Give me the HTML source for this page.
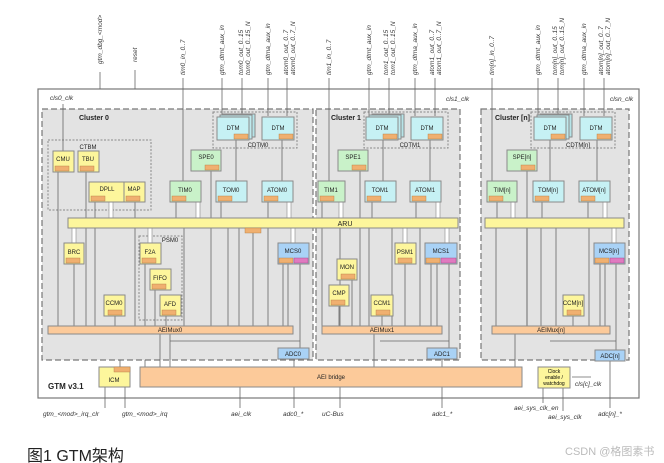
<!DOCTYPE html>
<html><head><meta charset="utf-8"><style>
body{margin:0;background:#fff;width:664px;height:463px;overflow:hidden}
svg{display:block}
text{font-family:"Liberation Sans",sans-serif}
.b{stroke:#8a8a8a;stroke-width:1}
.t{font-size:6px;fill:#222;text-anchor:middle}
.l{stroke:#666;stroke-width:0.8;fill:none}
.r{font-size:6.5px;fill:#333;font-style:italic}
.a{fill:#f0b070;stroke:#b07a40;stroke-width:0.4}
</style></head><body>
<svg width="664" height="463" viewBox="0 0 664 463" xmlns="http://www.w3.org/2000/svg">
<defs><marker id="m" markerWidth="4" markerHeight="4" refX="2" refY="2" orient="auto"><path d="M0,0L4,2L0,4z" fill="#222"/></marker></defs>
<!-- outer -->
<rect x="38" y="89" width="601" height="309" fill="#fff" stroke="#777" stroke-width="1.2"/>
<!-- clusters -->
<rect x="42" y="109" width="271" height="251" fill="#e3e3e3" stroke="#777" stroke-dasharray="6,3" stroke-width="1.2"/>
<rect x="316" y="109" width="144" height="251" fill="#e3e3e3" stroke="#777" stroke-dasharray="6,3" stroke-width="1.2"/>
<rect x="481" y="109" width="148" height="251" fill="#e3e3e3" stroke="#777" stroke-dasharray="6,3" stroke-width="1.2"/>
<text x="79" y="120" font-size="7" font-weight="bold" fill="#222">Cluster 0</text>
<text x="331" y="120" font-size="7" font-weight="bold" fill="#222">Cluster 1</text>
<text x="495" y="120" font-size="7" font-weight="bold" fill="#222">Cluster [n]</text>
<text x="50" y="100" class="r">cls0_clk</text>
<text x="446" y="101" class="r">cls1_clk</text>
<text x="610" y="101" class="r">clsn_clk</text>
<!-- dotted groups -->
<rect x="48" y="140" width="103" height="70" fill="none" stroke="#888" stroke-dasharray="2,1.5"/>
<text x="88" y="149" class="t">CTBM</text>
<rect x="213" y="112" width="84" height="36" fill="none" stroke="#888" stroke-dasharray="2,1.5"/>
<text x="258" y="147" class="t">CDTM0</text>
<rect x="364" y="112" width="84" height="36" fill="none" stroke="#888" stroke-dasharray="2,1.5"/>
<text x="410" y="147" class="t">CDTM1</text>
<rect x="531" y="112" width="84" height="36" fill="none" stroke="#888" stroke-dasharray="2,1.5"/>
<text x="578" y="147" class="t">CDTM[n]</text>
<rect x="139" y="236" width="43" height="84" fill="none" stroke="#888" stroke-dasharray="2,1.5"/>
<text x="170" y="242" class="t">PSM0</text>

<!-- vertical lines from top -->
<g class="l">
<line x1="183" y1="78" x2="183" y2="181"/><line x1="222" y1="78" x2="222" y2="116"/><line x1="242" y1="78" x2="242" y2="116"/><line x1="268" y1="78" x2="268" y2="116"/><line x1="287" y1="78" x2="287" y2="116"/>
<line x1="329" y1="78" x2="329" y2="181"/><line x1="369" y1="78" x2="369" y2="116"/><line x1="389" y1="78" x2="389" y2="116"/><line x1="415" y1="78" x2="415" y2="116"/><line x1="435" y1="78" x2="435" y2="116"/>
<line x1="492" y1="78" x2="492" y2="181"/><line x1="538" y1="78" x2="538" y2="116"/><line x1="558" y1="78" x2="558" y2="116"/><line x1="584" y1="78" x2="584" y2="116"/><line x1="604" y1="78" x2="604" y2="116"/>
<line x1="100" y1="72" x2="100" y2="89"/><line x1="135" y1="70" x2="135" y2="89"/>
<line x1="63" y1="104" x2="63" y2="151"/>
<line x1="236" y1="140" x2="236" y2="181"/><line x1="282" y1="140" x2="282" y2="181"/>
<line x1="383" y1="140" x2="383" y2="181"/><line x1="430" y1="140" x2="430" y2="181"/>
<line x1="550" y1="140" x2="550" y2="181"/><line x1="597" y1="140" x2="597" y2="181"/>
<line x1="211" y1="171" x2="211" y2="326"/><line x1="360" y1="171" x2="360" y2="326"/><line x1="527" y1="171" x2="527" y2="326"/>
<!-- down to AEIMux0 -->
<line x1="58" y1="172" x2="58" y2="326"/><line x1="86" y1="172" x2="86" y2="326"/><line x1="95" y1="202" x2="95" y2="326"/><line x1="135" y1="202" x2="135" y2="326"/>
<line x1="74" y1="264" x2="74" y2="326"/><line x1="115" y1="316" x2="115" y2="326"/>
<line x1="145" y1="264" x2="145" y2="326"/><line x1="155" y1="290" x2="155" y2="326"/><line x1="166" y1="316" x2="166" y2="326"/><line x1="184" y1="228" x2="184" y2="326"/>
<line x1="176" y1="202" x2="176" y2="218"/><line x1="221" y1="202" x2="221" y2="218"/><line x1="268" y1="202" x2="268" y2="218"/>
<line x1="228" y1="228" x2="228" y2="326"/><line x1="239" y1="228" x2="239" y2="326"/><line x1="253" y1="233" x2="253" y2="326"/><line x1="268" y1="228" x2="268" y2="326"/>
<line x1="283" y1="264" x2="283" y2="326"/><line x1="288" y1="264" x2="288" y2="326"/><line x1="300" y1="264" x2="300" y2="348"/>
<line x1="170" y1="334" x2="170" y2="367"/><line x1="170" y1="341" x2="300" y2="341"/>
<line x1="160" y1="334" x2="160" y2="367"/>
<!-- cluster1 -->
<line x1="322" y1="202" x2="322" y2="326"/><line x1="340" y1="202" x2="340" y2="326"/><line x1="339" y1="306" x2="339" y2="326"/><line x1="352" y1="280" x2="352" y2="326"/>
<line x1="369" y1="228" x2="369" y2="326"/><line x1="382" y1="316" x2="382" y2="326"/><line x1="392" y1="228" x2="392" y2="326"/><line x1="405" y1="264" x2="405" y2="326"/>
<line x1="420" y1="228" x2="420" y2="326"/><line x1="431" y1="264" x2="431" y2="326"/><line x1="437" y1="264" x2="437" y2="326"/><line x1="449" y1="264" x2="449" y2="348"/>
<line x1="372" y1="202" x2="372" y2="218"/><line x1="416" y1="202" x2="416" y2="218"/>
<line x1="374" y1="334" x2="374" y2="367"/><line x1="380" y1="341" x2="449" y2="341"/>
<!-- cluster n -->
<line x1="496" y1="228" x2="496" y2="326"/><line x1="527" y1="228" x2="527" y2="326"/><line x1="541" y1="228" x2="541" y2="326"/><line x1="556" y1="228" x2="556" y2="326"/><line x1="573" y1="316" x2="573" y2="326"/><line x1="589" y1="228" x2="589" y2="326"/>
<line x1="600" y1="264" x2="600" y2="326"/><line x1="605" y1="264" x2="605" y2="326"/><line x1="616" y1="264" x2="616" y2="350"/>
<line x1="497" y1="202" x2="497" y2="218"/><line x1="542" y1="202" x2="542" y2="218"/><line x1="588" y1="202" x2="588" y2="218"/>
<line x1="515" y1="334" x2="515" y2="367"/><line x1="550" y1="341" x2="616" y2="341"/>
<!-- bottom -->
<line x1="294" y1="359" x2="294" y2="408"/><line x1="442" y1="359" x2="442" y2="408"/><line x1="610" y1="360" x2="610" y2="408"/>
<line x1="240" y1="387" x2="240" y2="408"/><line x1="340" y1="387" x2="340" y2="408"/>
<line x1="105" y1="387" x2="105" y2="408"/><line x1="125" y1="387" x2="125" y2="408"/>
<line x1="543" y1="388" x2="543" y2="403"/><line x1="563" y1="388" x2="563" y2="411"/>
<line x1="572" y1="377" x2="591" y2="377"/>
<line x1="120" y1="360" x2="120" y2="367"/><line x1="145" y1="360" x2="145" y2="367"/>
</g>
<!-- double arrows -->
<g fill="#fff" stroke="#888" stroke-width="0.6">
<rect x="109" y="202" width="4" height="16"/><rect x="196" y="202" width="4" height="16"/><rect x="287" y="202" width="4" height="16"/>
<rect x="72" y="228" width="4" height="15"/><rect x="148" y="228" width="4" height="15"/><rect x="291" y="228" width="4" height="15"/>
<rect x="339" y="202" width="4" height="16"/><rect x="436" y="202" width="4" height="16"/><rect x="403" y="228" width="4" height="15"/><rect x="445" y="228" width="4" height="15"/>
<rect x="511" y="202" width="4" height="16"/><rect x="603" y="202" width="4" height="16"/><rect x="612" y="228" width="4" height="15"/>
</g>
<!-- bars -->
<rect x="68" y="218" width="390" height="10" fill="#fdf69c" class="b"/>
<rect x="485" y="218" width="139" height="10" fill="#fdf69c" class="b"/>
<text x="345" y="226" font-size="7" fill="#222" text-anchor="middle">ARU</text>
<rect x="245" y="228" width="16" height="5" class="a"/>
<rect x="48" y="326" width="245" height="8" fill="#fcca9a" class="b"/>
<text x="170" y="332" class="t">AEIMux0</text>
<rect x="322" y="326" width="120" height="8" fill="#fcca9a" class="b"/>
<text x="382" y="332" class="t">AEIMux1</text>
<rect x="492" y="326" width="118" height="8" fill="#fcca9a" class="b"/>
<text x="551" y="332" class="t">AEIMux[n]</text>
<rect x="140" y="367" width="382" height="20" fill="#fcca9a" class="b"/>
<text x="331" y="379" class="t">AEI bridge</text>
<!-- ADC -->
<rect x="278" y="348" width="31" height="11" fill="#a9d2f6" class="b"/><text x="293" y="356" class="t">ADC0</text>
<rect x="427" y="348" width="30" height="11" fill="#a9d2f6" class="b"/><text x="442" y="356" class="t">ADC1</text>
<rect x="595" y="350" width="30" height="11" fill="#a9d2f6" class="b"/><text x="610" y="358" class="t">ADC[n]</text>
<!-- ICM / clock -->
<rect x="99" y="367" width="31" height="20" fill="#fdf69c" class="b"/><rect x="114" y="367" width="16" height="5" class="a"/><text x="114" y="382" class="t">ICM</text>
<rect x="538" y="367" width="32" height="21" fill="#fdf69c" class="b"/>
<text x="554" y="373" font-size="5" text-anchor="middle">Clock</text><text x="554" y="379" font-size="5" text-anchor="middle">enable /</text><text x="554" y="385" font-size="5" text-anchor="middle">watchdog</text>
<text x="48" y="389" font-size="8" font-weight="bold" fill="#222">GTM v3.1</text>

<!-- blocks: yellow -->
<g class="b">
<rect x="53" y="151" width="21" height="21" fill="#fdf69c"/><rect x="78" y="151" width="21" height="21" fill="#fdf69c"/>
<rect x="89" y="182" width="36" height="20" fill="#fdf69c"/><rect x="124" y="182" width="21" height="20" fill="#fdf69c"/>
<rect x="64" y="243" width="20" height="21" fill="#fdf69c"/><rect x="140" y="243" width="21" height="21" fill="#fdf69c"/>
<rect x="150" y="269" width="21" height="21" fill="#fdf69c"/><rect x="160" y="295" width="21" height="21" fill="#fdf69c"/>
<rect x="104" y="295" width="21" height="21" fill="#fdf69c"/>
<rect x="337" y="259" width="20" height="21" fill="#fdf69c"/><rect x="329" y="285" width="20" height="21" fill="#fdf69c"/>
<rect x="371" y="295" width="22" height="21" fill="#fdf69c"/><rect x="395" y="243" width="21" height="21" fill="#fdf69c"/>
<rect x="563" y="295" width="21" height="21" fill="#fdf69c"/>
<!-- green -->
<rect x="191" y="150" width="30" height="21" fill="#c9f2c9"/><rect x="170" y="181" width="31" height="21" fill="#c9f2c9"/>
<rect x="338" y="150" width="30" height="21" fill="#c9f2c9"/><rect x="318" y="181" width="27" height="21" fill="#c9f2c9"/>
<rect x="507" y="150" width="30" height="21" fill="#c9f2c9"/><rect x="487" y="181" width="30" height="21" fill="#c9f2c9"/>
<!-- cyan -->
<rect x="216" y="181" width="31" height="21" fill="#c6f1f4"/><rect x="262" y="181" width="31" height="21" fill="#c6f1f4"/>
<rect x="365" y="181" width="31" height="21" fill="#c6f1f4"/><rect x="410" y="181" width="31" height="21" fill="#c6f1f4"/>
<rect x="533" y="181" width="31" height="21" fill="#c6f1f4"/><rect x="579" y="181" width="31" height="21" fill="#c6f1f4"/>
<rect x="223" y="114" width="32" height="23" fill="#b6e4e8"/><rect x="220" y="115" width="32" height="24" fill="#bfeaee"/>
<rect x="217" y="117" width="32" height="23" fill="#c6f1f4"/><rect x="262" y="117" width="32" height="23" fill="#c6f1f4"/>
<rect x="372" y="114" width="32" height="23" fill="#b6e4e8"/><rect x="369" y="115" width="32" height="24" fill="#bfeaee"/>
<rect x="366" y="117" width="32" height="23" fill="#c6f1f4"/><rect x="411" y="117" width="32" height="23" fill="#c6f1f4"/>
<rect x="540" y="114" width="32" height="23" fill="#b6e4e8"/><rect x="537" y="115" width="32" height="24" fill="#bfeaee"/>
<rect x="534" y="117" width="32" height="23" fill="#c6f1f4"/><rect x="580" y="117" width="32" height="23" fill="#c6f1f4"/>
<!-- blue MCS -->
<rect x="278" y="243" width="31" height="21" fill="#a9d2f6"/><rect x="425" y="243" width="32" height="21" fill="#a9d2f6"/><rect x="594" y="243" width="31" height="21" fill="#a9d2f6"/>
</g>
<!-- AEI tags -->
<g class="a">
<rect x="55" y="166" width="14" height="5"/><rect x="80" y="166" width="14" height="5"/><rect x="91" y="196" width="14" height="5"/><rect x="126" y="196" width="14" height="5"/>
<rect x="66" y="258" width="14" height="5"/><rect x="142" y="258" width="14" height="5"/><rect x="152" y="284" width="14" height="5"/><rect x="162" y="310" width="14" height="5"/><rect x="108" y="310" width="14" height="5"/>
<rect x="341" y="274" width="14" height="5"/><rect x="331" y="300" width="14" height="5"/><rect x="376" y="310" width="14" height="5"/><rect x="398" y="258" width="14" height="5"/><rect x="567" y="310" width="14" height="5"/>
<rect x="172" y="196" width="14" height="5"/><rect x="218" y="196" width="14" height="5"/><rect x="264" y="196" width="14" height="5"/>
<rect x="320" y="196" width="14" height="5"/><rect x="367" y="196" width="14" height="5"/><rect x="412" y="196" width="14" height="5"/>
<rect x="489" y="196" width="14" height="5"/><rect x="535" y="196" width="14" height="5"/><rect x="581" y="196" width="14" height="5"/>
<rect x="205" y="165" width="14" height="5"/><rect x="352" y="165" width="14" height="5"/><rect x="521" y="165" width="14" height="5"/>
<rect x="234" y="134" width="14" height="5"/><rect x="279" y="134" width="14" height="5"/><rect x="383" y="134" width="14" height="5"/><rect x="428" y="134" width="14" height="5"/><rect x="551" y="134" width="14" height="5"/><rect x="597" y="134" width="14" height="5"/>
<rect x="279" y="258" width="14" height="5"/><rect x="426" y="258" width="14" height="5"/><rect x="595" y="258" width="14" height="5"/>
</g>
<g fill="#e07ac0" stroke="#a04080" stroke-width="0.4">
<rect x="294" y="258" width="14" height="5"/><rect x="441" y="258" width="15" height="5"/><rect x="610" y="258" width="14" height="5"/>
</g>
<!-- labels -->
<g class="t">
<text x="63" y="161">CMU</text><text x="88" y="161">TBU</text><text x="107" y="191">DPLL</text><text x="134" y="191">MAP</text>
<text x="74" y="254">BRC</text><text x="150" y="254">F2A</text><text x="160" y="280">FIFO</text><text x="170" y="306">AFD</text><text x="114" y="305">CCM0</text>
<text x="347" y="269">MON</text><text x="339" y="295">CMP</text><text x="382" y="305">CCM1</text><text x="405" y="254">PSM1</text><text x="573" y="305">CCM[n]</text>
<text x="206" y="159">SPE0</text><text x="185" y="192">TIM0</text><text x="353" y="159">SPE1</text><text x="331" y="192">TIM1</text><text x="522" y="159">SPE[n]</text><text x="502" y="192">TIM[n]</text>
<text x="231" y="192">TOM0</text><text x="277" y="192">ATOM0</text><text x="380" y="192">TOM1</text><text x="425" y="192">ATOM1</text><text x="548" y="192">TOM[n]</text><text x="594" y="192">ATOM[n]</text>
<text x="233" y="130">DTM</text><text x="278" y="130">DTM</text><text x="382" y="130">DTM</text><text x="427" y="130">DTM</text><text x="550" y="130">DTM</text><text x="596" y="130">DTM</text>
<text x="293" y="253">MCS0</text><text x="441" y="253">MCS1</text><text x="609" y="253">MCS[n]</text>
</g>
<!-- rotated top labels -->
<g class="r" font-size="6">
<text transform="translate(102,64) rotate(-90)">gtm_dbg_&lt;mod&gt;</text>
<text transform="translate(137,62) rotate(-90)">reset</text>
<text transform="translate(185,75) rotate(-90)">tim0_in_0..7</text>
<text transform="translate(224,75) rotate(-90)">gtm_dtmt_aux_in</text>
<text transform="translate(243,75) rotate(-90)">tom0_out_0..15</text>
<text transform="translate(250,75) rotate(-90)">tom0_out_0..15_N</text>
<text transform="translate(270,75) rotate(-90)">gtm_dtma_aux_in</text>
<text transform="translate(288,75) rotate(-90)">atom0_out_0..7</text>
<text transform="translate(295,75) rotate(-90)">atom0_out_0..7_N</text>
<text transform="translate(331,75) rotate(-90)">tim1_in_0..7</text>
<text transform="translate(371,75) rotate(-90)">gtm_dtmt_aux_in</text>
<text transform="translate(388,75) rotate(-90)">tom1_out_0..15</text>
<text transform="translate(395,75) rotate(-90)">tom1_out_0..15_N</text>
<text transform="translate(417,75) rotate(-90)">gtm_dtma_aux_in</text>
<text transform="translate(434,75) rotate(-90)">atom1_out_0..7</text>
<text transform="translate(441,75) rotate(-90)">atom1_out_0..7_N</text>
<text transform="translate(494,75) rotate(-90)">tim[n]_in_0..7</text>
<text transform="translate(540,75) rotate(-90)">gtm_dtmt_aux_in</text>
<text transform="translate(557,75) rotate(-90)">tom[n]_out_0..15</text>
<text transform="translate(564,75) rotate(-90)">tom[n]_out_0..15_N</text>
<text transform="translate(586,75) rotate(-90)">gtm_dtma_aux_in</text>
<text transform="translate(603,75) rotate(-90)">atom[n]_out_0..7</text>
<text transform="translate(610,75) rotate(-90)">atom[n]_out_0..7_N</text>
</g>
<!-- bottom labels -->
<g class="r">
<text x="43" y="416">gtm_&lt;mod&gt;_irq_clr</text><text x="122" y="416">gtm_&lt;mod&gt;_irq</text>
<text x="231" y="416">aei_clk</text><text x="283" y="416">adc0_*</text><text x="322" y="416">uC-Bus</text><text x="432" y="416">adc1_*</text>
<text x="514" y="410">aei_sys_clk_en</text><text x="548" y="419">aei_sys_clk</text><text x="598" y="416">adc[n]_*</text><text x="575" y="386">cls[c]_clk</text>
</g>
<text x="27" y="461" font-size="16" fill="#222" font-family="'Liberation Sans','Noto Sans CJK SC',sans-serif">图1 GTM架构</text>
<text x="565" y="455" font-size="11" fill="#bbb" font-family="'Liberation Sans','Noto Sans CJK SC',sans-serif">CSDN @格图素书</text>
</svg>
</body></html>
